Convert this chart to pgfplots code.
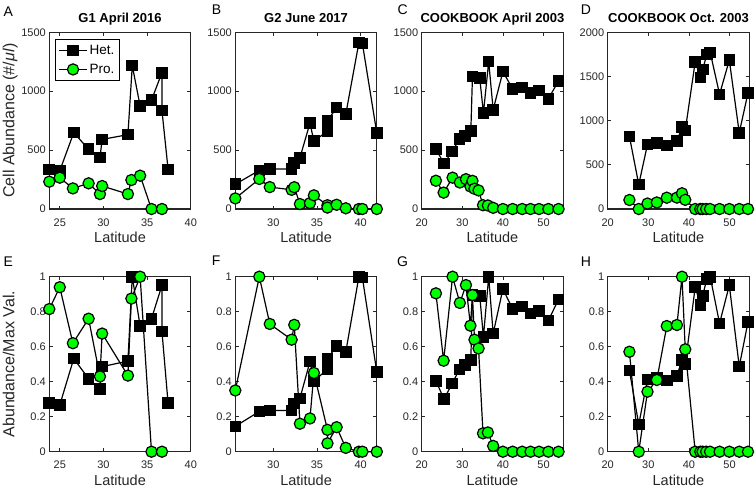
\documentclass[border=0pt]{standalone}
\usepackage{fontspec}
\setmainfont{Liberation Sans}
\usepackage{pgfplots}
\pgfplotsset{compat=1.18}
\definecolor{matgreen}{RGB}{0,255,0}
\definecolor{axgray}{RGB}{38,38,38}

\pgfplotsset{
  panel/.style={
    scale only axis, width=141.5pt, anchor=north west, clip=false,
    axis line style={draw=axgray, line width=1.3pt},
    every tick/.style={draw=axgray, line width=0.8pt},
    tick align=inside, major tick length=3.5pt, tick pos=both,
    ticklabel style={font=\fontsize{11}{13}\selectfont, text=axgray},
    xticklabel style={anchor=base, yshift=-17pt},
    every axis label/.append style={font=\fontsize{14.5}{16}\selectfont, text=axgray},
    title style={font=\bfseries\fontsize{13}{15}\selectfont, at={(axis description cs:0.5,1)}, anchor=base, yshift=4pt},
    /pgf/number format/assume math mode=true,
    /pgf/number format/1000 sep={},
    scaled ticks=false,
    xlabel={Latitude},
    xlabel style={at={(axis description cs:0.5,0)}, anchor=base, yshift=-33.5pt},
    ylabel style={at={(axis description cs:-0.247,0.5)}, anchor=base, font=\fontsize{16}{18}\selectfont},
  },
  toprow/.style={height=176.7pt, ymin=0},
  botrow/.style={height=175pt, ymin=0, ymax=1, ytick={0,0.2,0.4,0.6,0.8,1}},
  narrowA/.style={xmin=23.8, xmax=40, xtick={25,30,35,40}},
  narrowB/.style={xmin=25.65, xmax=41.85, xtick={30,35,40}},
  wide/.style={xmin=20, xmax=54.85, xtick={20,30,40,50}},
  het/.style={black, line width=1.2pt, mark=square*, mark size=5.2pt, mark options={solid, fill=black}},
  pro/.style={black, line width=1.2pt, mark=*, mark size=5.6pt, mark options={solid, fill=matgreen, draw=black, line width=1.2pt}},
  matlegend/.style={
    legend style={at={(axis description cs:0,1)}, anchor=north west, xshift=5.7pt, yshift=-7pt,
      draw=black, line width=0.9pt, font=\fontsize{13.5}{15}\selectfont, text=black,
      inner xsep=3pt, inner ysep=3.5pt, row sep=4pt},
    legend cell align=left,
    legend image code/.code={\draw[mark repeat=2, mark phase=2, ##1] plot coordinates {(0pt,0pt) (14pt,0pt) (28pt,0pt)};},
  },
}

\begin{document}
\begin{tikzpicture}
\path[use as bounding box] (0pt,0pt) rectangle (756pt,-491pt);

\tikzset{panlab/.style={anchor=north west, inner sep=0pt, font=\fontsize{14}{16}\selectfont, text=black}}
\node[panlab] at (3.3pt,-6.7pt) {A};
\node[panlab] at (211.7pt,-5pt) {B};
\node[panlab] at (397.5pt,-5pt) {C};
\node[panlab] at (580.7pt,-5pt) {D};
\node[panlab] at (3.3pt,-256.7pt) {E};
\node[panlab] at (211.7pt,-256pt) {F};
\node[panlab] at (397pt,-256.7pt) {G};
\node[panlab] at (580.7pt,-256.7pt) {H};

% ---- A ----
\begin{axis}[panel, toprow, narrowA, matlegend, at={(49.3pt,-32.3pt)},
  ymax=1500, ytick={0,500,1000,1500}, title={G1 April 2016},
  ylabel={Cell Abundance (\#/\textit{μl})}]
\addplot[het] coordinates {(23.8,337) (25.0,325) (26.6,648) (28.3,507) (29.6,436) (29.85,591)
  (32.8,631) (33.3,1217) (34.2,874) (35.5,925) (36.7,1157) (36.7,835) (37.4,337)};
\addplot[pro] coordinates {(23.8,232) (25.0,266) (26.5,175) (28.3,218) (29.6,127) (29.85,195)
  (32.8,127) (33.2,246) (34.2,283) (35.5,0) (36.7,0)};
\legend{Het., Pro.}
\end{axis}

% ---- B ----
\begin{axis}[panel, toprow, narrowB, at={(235.3pt,-32.3pt)},
  ymax=1500, ytick={0,500,1000,1500}, title={G2 June 2017}]
\addplot[het] coordinates {(25.65,210) (28.4,328) (29.6,340) (32.1,340) (32.4,392) (33.05,435)
  (34.2,730) (34.65,575) (36.2,662) (36.2,750) (37.25,860) (38.3,805) (39.8,1412) (40.2,1405) (41.85,645)};
\addplot[pro] coordinates {(25.65,90) (28.4,255) (29.6,186) (32.1,163) (32.4,185) (33.05,42)
  (34.2,50) (34.65,116) (36.2,32) (36.2,12) (37.25,36) (38.3,6) (39.8,0) (40.2,0) (41.85,0)};
\end{axis}

% ---- C ----
\begin{axis}[panel, toprow, wide, at={(421.7pt,-32.3pt)},
  ymax=1500, ytick={0,500,1000,1500}, title={COOKBOOK April 2003}]
\addplot[het] coordinates {(23.5,509) (25.5,385) (27.5,488) (29.3,592) (30.7,620) (32.1,660)
  (32.5,1125) (34.3,1110) (35.2,815) (36.5,1251) (37.6,843) (40.0,1166) (42.4,1020)
  (44.75,1033) (46.8,985) (48.9,1005) (51.2,936) (53.7,1087)};
\addplot[pro] coordinates {(23.5,240) (25.4,139) (27.6,266) (29.4,225) (30.9,253) (32.0,191)
  (32.5,239) (33.0,172) (34.0,158) (35.1,32) (36.3,30) (37.6,10) (40.0,0) (42.4,0)
  (44.75,0) (46.8,0) (48.9,0) (51.2,0) (53.7,0)};
\end{axis}

% ---- D ----
\begin{axis}[panel, toprow, wide, at={(607.7pt,-32.3pt)},
  ymax=2000, ytick={0,500,1000,1500,2000}, title={COOKBOOK Oct. 2003}]
\addplot[het] coordinates {(25.35,822) (27.65,277) (29.8,731) (32.1,746) (34.55,720) (37.05,769)
  (38.3,928) (39.1,889) (41.55,1665) (42.9,1488) (43.4,1579) (44.4,1749) (45.25,1772)
  (47.55,1298) (49.95,1685) (52.4,863) (54.55,1313)};
\addplot[pro] coordinates {(25.35,102) (27.65,0) (29.8,62) (32.1,74) (34.55,128) (37.05,129)
  (38.3,178) (39.1,104) (41.55,0) (42.8,0) (43.35,0) (44.25,0) (45.2,0) (47.55,0)
  (49.95,0) (52.4,0) (54.55,0)};
\end{axis}

% ---- E ----
\begin{axis}[panel, botrow, narrowA, at={(49.3pt,-276.7pt)},
  ylabel={Abundance/Max Val.}]
\addplot[het] coordinates {(23.8,0.277) (25.0,0.267) (26.6,0.532) (28.3,0.417) (29.6,0.358) (29.85,0.486)
  (32.8,0.518) (33.3,1) (34.2,0.718) (35.5,0.76) (36.7,0.951) (36.7,0.686) (37.4,0.277)};
\addplot[pro] coordinates {(23.8,0.815) (25.0,0.94) (26.5,0.62) (28.3,0.76) (29.6,0.43) (29.85,0.675)
  (32.8,0.435) (33.2,0.875) (34.2,1) (35.5,0) (36.7,0)};
\end{axis}

% ---- F ----
\begin{axis}[panel, botrow, narrowB, at={(235.3pt,-276.7pt)}]
\addplot[het] coordinates {(25.65,0.145) (28.4,0.23) (29.6,0.235) (32.1,0.235) (32.4,0.275) (33.05,0.305)
  (34.2,0.515) (34.65,0.405) (36.2,0.47) (36.2,0.53) (37.25,0.605) (38.3,0.57) (39.8,1) (40.2,0.995) (41.85,0.455)};
\addplot[pro] coordinates {(25.65,0.35) (28.4,1) (29.6,0.73) (32.1,0.64) (32.4,0.725) (33.05,0.16)
  (34.2,0.19) (34.65,0.45) (36.2,0.125) (36.2,0.048) (37.25,0.14) (38.3,0.022) (39.8,0) (40.2,0) (41.85,0)};
\end{axis}

% ---- G ----
\begin{axis}[panel, botrow, wide, at={(421.7pt,-276.7pt)}]
\addplot[het] coordinates {(23.5,0.405) (25.5,0.3) (27.5,0.39) (29.3,0.47) (30.7,0.495) (32.1,0.525)
  (32.5,0.895) (34.3,0.89) (35.2,0.655) (36.5,1) (37.6,0.675) (40.0,0.93) (42.4,0.815)
  (44.75,0.83) (46.8,0.79) (48.9,0.805) (51.2,0.75) (53.7,0.87)};
\addplot[pro] coordinates {(23.5,0.905) (25.4,0.52) (27.6,1) (29.4,0.85) (30.9,0.952) (32.0,0.72)
  (32.5,0.895) (33.0,0.64) (34.0,0.59) (35.1,0.105) (36.3,0.11) (37.6,0.033) (40.0,0) (42.4,0)
  (44.75,0) (46.8,0) (48.9,0) (51.2,0) (53.7,0)};
\end{axis}

% ---- H ----
\begin{axis}[panel, botrow, wide, at={(607.7pt,-276.7pt)}]
\addplot[het] coordinates {(25.35,0.464) (27.65,0.156) (29.8,0.413) (32.1,0.421) (34.55,0.406) (37.05,0.434)
  (38.3,0.524) (39.1,0.502) (41.55,0.94) (42.9,0.84) (43.4,0.891) (44.4,0.987) (45.25,1)
  (47.55,0.733) (49.95,0.951) (52.4,0.487) (54.55,0.741)};
\addplot[pro] coordinates {(25.35,0.571) (27.65,0) (29.8,0.343) (32.1,0.41) (34.55,0.718) (37.05,0.724)
  (38.3,1) (39.1,0.585) (41.55,0) (42.8,0) (43.35,0) (44.25,0) (45.2,0) (47.55,0)
  (49.95,0) (52.4,0) (54.55,0)};
\end{axis}
\end{tikzpicture}
\end{document}
